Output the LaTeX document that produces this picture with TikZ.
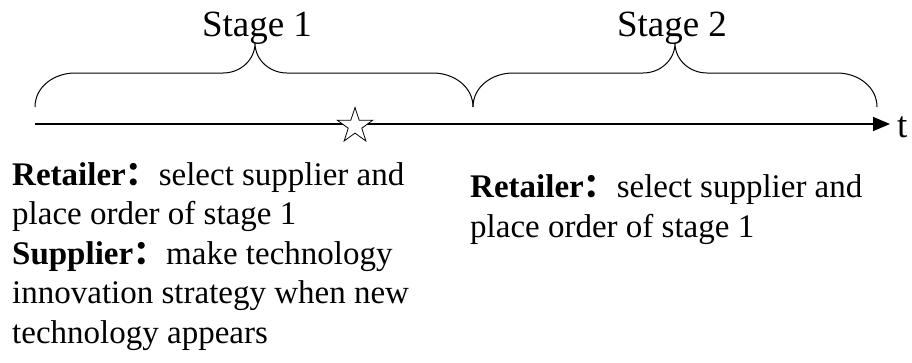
\documentclass[tikz,border=0pt]{standalone}
\usepackage{fontspec}
\setmainfont{Liberation Serif}
\newfontfamily\cjk{Noto Sans CJK SC}
\usetikzlibrary{arrows.meta,shapes.geometric}

\newcommand{\cn}{{\cjk\bfseries ：}}
% brace over one stage: left end, tip, right end
\newcommand{\drawbrace}[3]{%
  \draw[stagebrace] (#1,107) to[out=90,in=180] (#1+40,73) -- (#2-32,73)
    to[out=0,in=-90] (#2,43) to[out=-90,in=180] (#2+32,73) -- (#3-40,73)
    to[out=0,in=90] (#3,107);}

\begin{document}
\begin{tikzpicture}[x=1pt, y=-1pt,
  stagebrace/.style={line width=1pt},
  stagelabel/.style={anchor=base, inner sep=0pt, font=\fontsize{37}{44}\selectfont},
  actions/.style={anchor=base west, inner sep=0pt, align=left, font=\fontsize{33}{39.5}\selectfont}]
\useasboundingbox (0,0) rectangle (912,362);
% time axis
\coordinate (start) at (35,124);
\coordinate (end) at (890,124);
\draw[line width=1.6pt, -{Triangle[length=17pt,width=14pt]}] (start) -- (end);
\node[anchor=base west, inner sep=0pt, font=\fontsize{37}{44}\selectfont] (t) at (897,137) {t};
% braces and stages
\drawbrace{35}{255}{473}
\drawbrace{473}{675}{877}
\node[stagelabel] (stage1) at (257,36) {Stage 1};
\node[stagelabel] (stage2) at (672,36) {Stage 2};
% new technology
\node[star, star points=5, star point ratio=2.6, minimum size=37pt, inner sep=0pt,
  draw, fill=white, line width=0.8pt] (newtech) at (355,126) {};
% decisions (base is the last line)
\node[actions] (first) at (12,343) {\textbf{Retailer}\cn select supplier and\\
  place order of stage 1\\
  \textbf{Supplier}\cn make technology\\
  innovation strategy when new\\
  technology appears};
\node[actions] (second) at (470,237) {\textbf{Retailer}\cn select supplier and\\
  place order of stage 1};
\end{tikzpicture}
\end{document}
